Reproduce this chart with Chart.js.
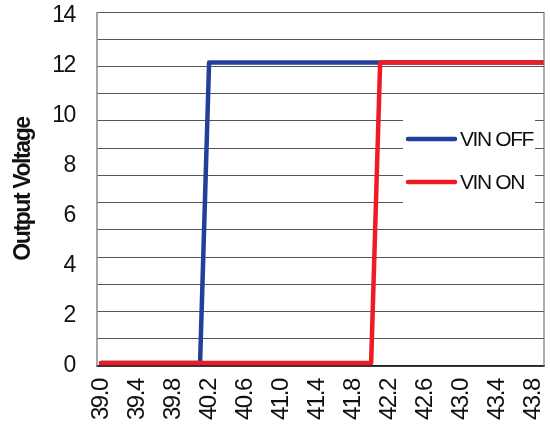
<!DOCTYPE html>
<html>
<head>
<meta charset="utf-8">
<script src="https://cdn.jsdelivr.net/npm/chart.js@4/dist/chart.umd.min.js"></script>
<style>
  html, body { margin: 0; padding: 0; background: #fff; }
  #wrap { width: 550px; height: 432px; }
</style>
</head>
<body>
<div id="wrap"><canvas id="chart"></canvas></div>
<script>
// --- datos ---
const xTickLabels = ["39.0", "39.4", "39.8", "40.2", "40.6", "41.0", "41.4", "41.8", "42.2", "42.6", "43.0", "43.4", "43.8"];
const yTickValues = [0, 2, 4, 6, 8, 10, 12, 14];

const vinOffX = [39.0, 40.1, 40.2, 43.92];
const vinOffY = [0.12, 0.12, 12.13, 12.13];
const vinOnX = [39.0, 42.0, 42.1, 43.92];
const vinOnY = [0.12, 0.12, 12.13, 12.13];

const FONT = "'Liberation Sans', Arial, sans-serif";

function toPoints(xs, ys) {
    return xs.map((x, i) => ({ x: x, y: ys[i] }));
}

// letra algo más estrecha, como en el original
const narrowText = {
    id: "narrowText",
    beforeDraw(chart) {
        chart.ctx.letterSpacing = "-1.4px";
    }
};

// leyenda dentro del area del grafico + bordes
const insideLegend = {
    id: "insideLegend",
    afterDraw(chart) {
        const ctx = chart.ctx;
        const area = chart.chartArea;
        ctx.save();
        // borde izquierdo
        ctx.strokeStyle = "#888";
        ctx.lineWidth = 1.5;
        ctx.beginPath();
        ctx.moveTo(area.left, area.top);
        ctx.lineTo(area.left, area.bottom);
        ctx.stroke();
        // borde derecho
        ctx.strokeStyle = "#777";
        ctx.lineWidth = 1.2;
        ctx.beginPath();
        ctx.moveTo(area.right, area.top);
        ctx.lineTo(area.right, area.bottom);
        ctx.stroke();

        // caja blanca
        ctx.fillStyle = "#fff";
        ctx.fillRect(403, 99, 132, 127);

        const items = [chart.data.datasets[0], chart.data.datasets[1]];
        const rows = [139, 182];
        items.forEach((ds, i) => {
            ctx.strokeStyle = ds.borderColor;
            ctx.lineWidth = 4.5;
            ctx.lineCap = "round";
            ctx.beginPath();
            ctx.moveTo(408, rows[i]);
            ctx.lineTo(455, rows[i]);
            ctx.stroke();
            ctx.fillStyle = "#111";
            ctx.font = "21px " + FONT;
            ctx.textBaseline = "middle";
            ctx.textAlign = "left";
            ctx.fillText(ds.label, 460, rows[i] + 1);
        });
        ctx.restore();
    }
};

const canvas = document.getElementById("chart");
const ctx = canvas.getContext("2d");

new Chart(ctx, {
    type: "line",
    data: {
        datasets: [
            {
                label: "VIN OFF",
                data: toPoints(vinOffX, vinOffY),
                borderColor: "#22409a",
                borderWidth: 4.5,
                pointRadius: 0,
                borderCapStyle: "round",
                borderJoinStyle: "round",
                order: 1,
                yAxisID: "y"
            },
            {
                label: "VIN ON",
                data: toPoints(vinOnX, vinOnY),
                borderColor: "#ed1c24",
                borderWidth: 4.5,
                pointRadius: 0,
                borderCapStyle: "round",
                borderJoinStyle: "round",
                order: 0,
                yAxisID: "y"
            }
        ]
    },
    options: {
        responsive: true,
        maintainAspectRatio: false,
        animation: false,
        layout: { padding: { left: 0, right: 6, top: 12, bottom: 0 } },
        plugins: {
            legend: { display: false },
            tooltip: { enabled: false }
        },
        scales: {
            x: {
                type: "linear",
                min: 38.955,
                max: 43.92,
                afterBuildTicks: (scale) => {
                    scale.ticks = xTickLabels.map(v => ({ value: parseFloat(v), label: v }));
                },
                afterFit: (scale) => {
                    scale.height = 66;
                    scale.paddingLeft = 0;
                    scale.paddingRight = 0;
                },
                ticks: {
                    color: "#111",
                    font: { family: FONT, size: 24 },
                    minRotation: 90,
                    maxRotation: 90,
                    padding: 13,
                    autoSkip: false,
                    callback: function (value, index) { return xTickLabels[index]; }
                },
                grid: { display: false, drawTicks: false },
                border: { color: "#222", width: 1.5 }
            },
            yg: {
                position: "left",
                min: 0,
                max: 13,
                ticks: { display: false, stepSize: 1 },
                afterFit: (scale) => {
                    scale.width = 0;
                    scale.paddingTop = 0;
                    scale.paddingBottom = 0;
                },
                grid: { color: "#555", lineWidth: 1, drawTicks: false },
                border: { display: false }
            },
            y: {
                position: "left",
                min: 0,
                max: 14.15,
                afterBuildTicks: (scale) => {
                    scale.ticks = yTickValues.map(v => ({ value: v }));
                },
                afterFit: (scale) => {
                    scale.width = 97;
                    scale.paddingTop = 0;
                    scale.paddingBottom = 0;
                },
                ticks: {
                    color: "#111",
                    font: { family: FONT, size: 23 },
                    padding: 22,
                    callback: (v) => String(v)
                },
                title: {
                    display: true,
                    text: "Output Voltage",
                    color: "#111",
                    font: { family: FONT, size: 23, weight: "bold" },
                    padding: { top: 10, bottom: 0 }
                },
                grid: { display: false, drawTicks: false },
                border: { display: false }
            }
        }
    },
    plugins: [narrowText, insideLegend]
});
</script>
</body>
</html>
